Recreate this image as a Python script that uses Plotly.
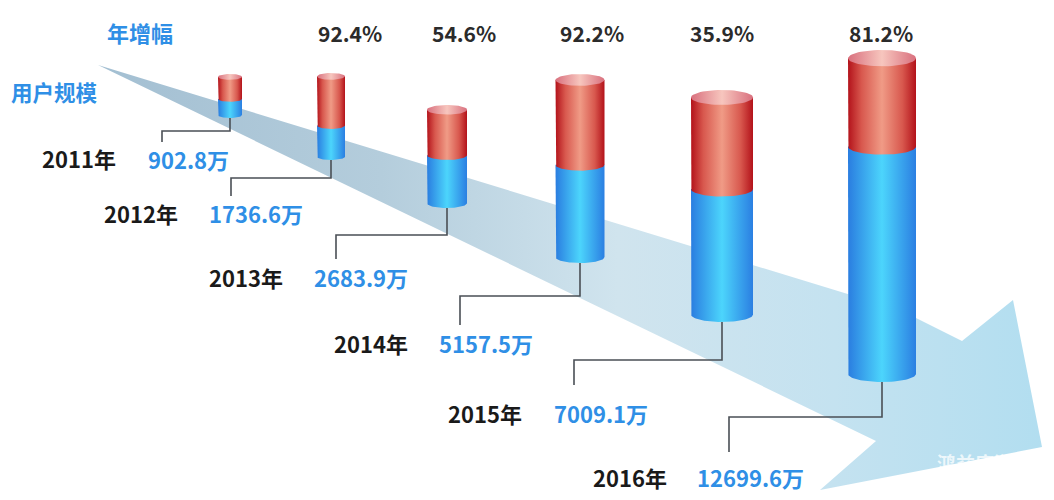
import numpy as np
import plotly.graph_objects as go

# ---------------- data ----------------
years = ["2011年", "2012年", "2013年", "2014年", "2015年", "2016年"]
users = [902.8, 1736.6, 2683.9, 5157.5, 7009.1, 12699.6]      # 万
growth = [None, 92.4, 54.6, 92.2, 35.9, 81.2]                   # %

# ---------------- layout (pixel space of the 1054x500 canvas) ----------------
W, H = 1054, 500
K = 0.0179  # pixels per 万 for the user-scale segment

cyl_cx = [230, 331, 447, 580, 722, 882]
cyl_w = [24, 28, 40, 49, 62, 68]
cyl_top = [74, 73, 105, 74, 90, 50]
cyl_bot = [118, 160, 208, 263, 322, 382]

pct_x = [None, 350, 464, 592, 722, 881]
pct_y = 33

conn_mid = [131, 178, 235, 296, 360, 417]
conn_left = [162, 231, 336, 460, 574, 729]
conn_end = [142, 196, 259, 325, 385, 452]

year_pos = [(79, 158), (141, 213), (246, 277), (371, 343), (485, 413), (630, 477)]
val_pos = [(188, 159), (256, 213), (361, 277), (486, 343), (601, 413), (750, 477)]

arrow_px = [(98, 65), (900, 310), (962, 341), (1013, 300), (1042, 447),
            (820, 490), (876, 441), (98, 65)]

FONT = "Noto Sans CJK SC"
BLUE_TXT = "#2f8fe6"
DARK_TXT = "#1a1a1a"


def yv(p):
    """pixel row -> y axis value (axis is in 万 units)."""
    return (H - p) / K


fig = go.Figure()

# arrow band
fig.add_trace(go.Scatter(
    x=[p[0] for p in arrow_px], y=[yv(p[1]) for p in arrow_px],
    mode="lines", line=dict(width=0), fill="toself",
    fillgradient=dict(type="horizontal", colorscale=[
        [0, "#a3bfd2"], [0.3, "#b4cddc"], [0.55, "#d0e4ee"],
        [0.78, "#c4e2f0"], [1, "#b2def0"]]),
    hoverinfo="skip", showlegend=False))

blue_cs = [[0, "#2a7de0"], [0.5, "#4cd5fc"], [1, "#2b7fe2"]]
red_cs = [[0, "#b3121a"], [0.2, "#d8584e"], [0.5, "#f09b86"], [0.8, "#d8584e"], [1, "#b3121a"]]
top_cs = [[0, "#d9707e"], [0.5, "#f7c6be"], [1, "#d9707e"]]

th = np.linspace(0, np.pi, 40)

for i in range(len(years)):
    cx, w = cyl_cx[i], cyl_w[i]
    ryp = 0.12 * w
    ry = ryp / K
    xl, xr = cx - w / 2, cx + w / 2
    yb = yv(cyl_bot[i] - ryp)          # bottom ellipse centre
    ybd = yb + users[i]                 # blue / red boundary (data driven)
    yt = yv(cyl_top[i] + ryp)           # top ellipse centre
    arc_x = list(cx - (w / 2) * np.cos(th))

    # blue body
    bx = [xl] + arc_x + [xr, xr, xl]
    by = [ybd] + list(yb - ry * np.sin(th)) + [yb, ybd, ybd]
    fig.add_trace(go.Scatter(x=bx, y=by, mode="lines", line=dict(width=0),
                             fill="toself",
                             fillgradient=dict(type="horizontal", colorscale=blue_cs),
                             hoverinfo="skip", showlegend=False))
    # red body
    rx = [xl, xl] + arc_x + [xr, xr, xl]
    ryy = [yt, ybd] + list(ybd - ry * np.sin(th)) + [ybd, yt, yt]
    fig.add_trace(go.Scatter(x=rx, y=ryy, mode="lines", line=dict(width=0),
                             fill="toself",
                             fillgradient=dict(type="horizontal", colorscale=red_cs),
                             hoverinfo="skip", showlegend=False))
    # top ellipse
    t2 = np.linspace(0, 2 * np.pi, 60)
    fig.add_trace(go.Scatter(x=list(cx + (w / 2) * np.cos(t2)),
                             y=list(yt + ry * np.sin(t2)),
                             mode="lines", line=dict(width=0), fill="toself",
                             fillgradient=dict(type="horizontal", colorscale=top_cs),
                             hoverinfo="skip", showlegend=False))
    # connector
    fig.add_trace(go.Scatter(
        x=[cx, cx, conn_left[i], conn_left[i]],
        y=[yv(cyl_bot[i]), yv(conn_mid[i]), yv(conn_mid[i]), yv(conn_end[i])],
        mode="lines", line=dict(color="#4a4f55", width=1.6),
        hoverinfo="skip", showlegend=False))

ann = []
ann.append(dict(x=140, y=yv(32), text="<b>年增幅</b>", font=dict(size=22, color=BLUE_TXT, family=FONT)))
ann.append(dict(x=54, y=yv(91), text="<b>用户规模</b>", font=dict(size=21.5, color=BLUE_TXT, family=FONT)))
for i in range(len(years)):
    if growth[i] is not None:
        ann.append(dict(x=pct_x[i], y=yv(pct_y), text=f"<b>{growth[i]:.1f}%</b>",
                        font=dict(size=21, color="#2b2b2b", family=FONT)))
    ann.append(dict(x=year_pos[i][0], y=yv(year_pos[i][1]), text=f"<b>{years[i]}</b>",
                    font=dict(size=22, color=DARK_TXT, family=FONT)))
    ann.append(dict(x=val_pos[i][0], y=yv(val_pos[i][1]), text=f"<b>{users[i]:.1f}万</b>",
                    font=dict(size=22, color=BLUE_TXT, family=FONT)))
ann.append(dict(x=975, y=yv(462), text="<b>鸿益康游</b>",
                font=dict(size=19, color="rgba(255,255,255,0.75)", family=FONT)))
for a in ann:
    a.update(xref="x", yref="y", showarrow=False, xanchor="center", yanchor="middle")

fig.update_layout(
    width=W, height=H, margin=dict(l=0, r=0, t=0, b=0),
    paper_bgcolor="white", plot_bgcolor="white",
    xaxis=dict(range=[0, W], visible=False, fixedrange=True),
    yaxis=dict(range=[0, H / K], visible=False, fixedrange=True),
    annotations=ann, showlegend=False,
)

fig.write_html("out.html")
